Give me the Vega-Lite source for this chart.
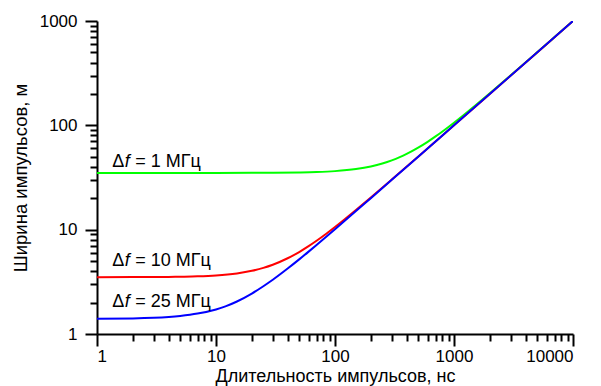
{
  "$schema": "https://vega.github.io/schema/vega-lite/v6.json",
  "autosize": "none",
  "width": 476,
  "height": 313,
  "padding": {"left": 97, "top": 21, "right": 28, "bottom": 52},
  "background": "white",
  "config": {
    "view": {"stroke": null},
    "font": "Liberation Sans",
    "axis": {"grid": false, "domainColor": "black", "tickColor": "black", "domainWidth": 2, "tickWidth": 2, "labelColor": "black", "titleColor": "black", "labelFont": "Liberation Sans", "titleFont": "Liberation Sans", "labelFontSize": 17, "titleFontSize": 18.5, "titleFontWeight": "normal"}
  },
  "datasets": {
    "curves": [
      {"x": 1, "y": 35.0, "s": "1 МГц"}, {"x": 10, "y": 35.0, "s": "1 МГц"}, {"x": 20, "y": 35.06, "s": "1 МГц"}, {"x": 30, "y": 35.13, "s": "1 МГц"}, {"x": 50, "y": 35.36, "s": "1 МГц"}, {"x": 70, "y": 35.69, "s": "1 МГц"}, {"x": 100, "y": 36.4, "s": "1 МГц"}, {"x": 150, "y": 38.08, "s": "1 МГц"}, {"x": 200, "y": 40.31, "s": "1 МГц"}, {"x": 250, "y": 43.01, "s": "1 МГц"}, {"x": 300, "y": 46.1, "s": "1 МГц"}, {"x": 350, "y": 49.5, "s": "1 МГц"}, {"x": 400, "y": 53.15, "s": "1 МГц"}, {"x": 500, "y": 61.03, "s": "1 МГц"}, {"x": 600, "y": 69.46, "s": "1 МГц"}, {"x": 700, "y": 78.26, "s": "1 МГц"}, {"x": 800, "y": 87.32, "s": "1 МГц"}, {"x": 1000, "y": 105.9, "s": "1 МГц"}, {"x": 1200, "y": 125.0, "s": "1 МГц"}, {"x": 1500, "y": 154.0, "s": "1 МГц"}, {"x": 2000, "y": 203.0, "s": "1 МГц"}, {"x": 3000, "y": 302.0, "s": "1 МГц"}, {"x": 5000, "y": 501.2, "s": "1 МГц"}, {"x": 7000, "y": 700.9, "s": "1 МГц"}, {"x": 10000, "y": 1000.6, "s": "1 МГц"},
      {"x": 1, "y": 3.5, "s": "10 МГц"}, {"x": 2, "y": 3.51, "s": "10 МГц"}, {"x": 3, "y": 3.51, "s": "10 МГц"}, {"x": 5, "y": 3.54, "s": "10 МГц"}, {"x": 7, "y": 3.57, "s": "10 МГц"}, {"x": 10, "y": 3.64, "s": "10 МГц"}, {"x": 15, "y": 3.81, "s": "10 МГц"}, {"x": 20, "y": 4.03, "s": "10 МГц"}, {"x": 25, "y": 4.3, "s": "10 МГц"}, {"x": 30, "y": 4.61, "s": "10 МГц"}, {"x": 40, "y": 5.32, "s": "10 МГц"}, {"x": 50, "y": 6.1, "s": "10 МГц"}, {"x": 60, "y": 6.95, "s": "10 МГц"}, {"x": 70, "y": 7.83, "s": "10 МГц"}, {"x": 85, "y": 9.19, "s": "10 МГц"}, {"x": 100, "y": 10.59, "s": "10 МГц"}, {"x": 120, "y": 12.5, "s": "10 МГц"}, {"x": 150, "y": 15.4, "s": "10 МГц"}, {"x": 200, "y": 20.3, "s": "10 МГц"}, {"x": 300, "y": 30.2, "s": "10 МГц"}, {"x": 500, "y": 50.12, "s": "10 МГц"}, {"x": 700, "y": 70.09, "s": "10 МГц"}, {"x": 1000, "y": 100.06, "s": "10 МГц"}, {"x": 2000, "y": 200.03, "s": "10 МГц"}, {"x": 5000, "y": 500.0, "s": "10 МГц"}, {"x": 10000, "y": 1000.0, "s": "10 МГц"},
      {"x": 1, "y": 1.4, "s": "25 МГц"}, {"x": 2, "y": 1.41, "s": "25 МГц"}, {"x": 3, "y": 1.43, "s": "25 МГц"}, {"x": 5, "y": 1.49, "s": "25 МГц"}, {"x": 7, "y": 1.57, "s": "25 МГц"}, {"x": 10, "y": 1.72, "s": "25 МГц"}, {"x": 12, "y": 1.84, "s": "25 МГц"}, {"x": 15, "y": 2.05, "s": "25 МГц"}, {"x": 20, "y": 2.44, "s": "25 МГц"}, {"x": 25, "y": 2.87, "s": "25 МГц"}, {"x": 30, "y": 3.31, "s": "25 МГц"}, {"x": 40, "y": 4.24, "s": "25 МГц"}, {"x": 50, "y": 5.19, "s": "25 МГц"}, {"x": 60, "y": 6.16, "s": "25 МГц"}, {"x": 70, "y": 7.14, "s": "25 МГц"}, {"x": 100, "y": 10.1, "s": "25 МГц"}, {"x": 150, "y": 15.06, "s": "25 МГц"}, {"x": 200, "y": 20.05, "s": "25 МГц"}, {"x": 300, "y": 30.03, "s": "25 МГц"}, {"x": 500, "y": 50.02, "s": "25 МГц"}, {"x": 1000, "y": 100.01, "s": "25 МГц"}, {"x": 10000, "y": 1000.0, "s": "25 МГц"}
    ],
    "labels": [
      {"lx": 1.34, "ly": 40, "d": "Δ", "f": "f", "rest": "= 1 МГц"},
      {"lx": 1.34, "ly": 4.44, "d": "Δ", "f": "f", "rest": "= 10 МГц"},
      {"lx": 1.34, "ly": 1.8, "d": "Δ", "f": "f", "rest": "= 25 МГц"}
    ]
  },
  "resolve": {"axis": {"x": "independent", "y": "independent"}},
  "layer": [
    {
      "data": {"name": "curves"},
      "mark": {"type": "line", "strokeWidth": 2, "clip": true, "interpolate": "monotone"},
      "encoding": {
        "x": {"field": "x", "type": "quantitative", "scale": {"type": "log", "domain": [1, 10000], "nice": false},
          "axis": {"orient": "bottom", "values": [1, 10, 100, 1000, 10000], "format": "d", "tickSize": 12, "labelPadding": 2, "title": "Длительность импульсов, нс", "titlePadding": 3, "titleFontSize": 18}},
        "y": {"field": "y", "type": "quantitative", "scale": {"type": "log", "domain": [1, 1000], "nice": false},
          "axis": {"orient": "left", "values": [1, 10, 100, 1000], "format": "d", "tickSize": 12, "labelPadding": 8, "title": "Ширина импульсов, м", "titlePadding": 9}},
        "color": {"field": "s", "type": "nominal", "scale": {"domain": ["1 МГц", "10 МГц", "25 МГц"], "range": ["#00ff00", "#ff0000", "#0000ff"]}, "legend": null},
        "detail": {"field": "s"}
      }
    },
    {
      "data": {"name": "curves"},
      "mark": {"type": "point", "opacity": 0},
      "encoding": {
        "x": {"field": "x", "type": "quantitative", "scale": {"type": "log", "domain": [1, 10000], "nice": false},
          "axis": {"orient": "bottom", "values": [2, 3, 4, 5, 6, 7, 8, 9, 20, 30, 40, 50, 60, 70, 80, 90, 200, 300, 400, 500, 600, 700, 800, 900, 2000, 3000, 4000, 5000, 6000, 7000, 8000, 9000], "labels": false, "domain": false, "tickSize": 7, "title": null}},
        "y": {"field": "y", "type": "quantitative", "scale": {"type": "log", "domain": [1, 1000], "nice": false},
          "axis": {"orient": "left", "values": [2, 3, 4, 5, 6, 7, 8, 9, 20, 30, 40, 50, 60, 70, 80, 90, 200, 300, 400, 500, 600, 700, 800, 900], "labels": false, "domain": false, "tickSize": 7, "title": null}}
      }
    },
    {
      "data": {"name": "labels"},
      "mark": {"type": "text", "align": "left", "baseline": "alphabetic", "fontSize": 18, "font": "Liberation Sans", "color": "black"},
      "encoding": {
        "x": {"field": "lx", "type": "quantitative", "scale": {"type": "log", "domain": [1, 10000], "nice": false}, "axis": null},
        "y": {"field": "ly", "type": "quantitative", "scale": {"type": "log", "domain": [1, 1000], "nice": false}, "axis": null},
        "text": {"field": "d"}
      }
    },
    {
      "data": {"name": "labels"},
      "mark": {"type": "text", "align": "left", "baseline": "alphabetic", "fontSize": 18, "font": "Liberation Sans", "fontStyle": "italic", "color": "black", "dx": 12.5},
      "encoding": {
        "x": {"field": "lx", "type": "quantitative", "scale": {"type": "log", "domain": [1, 10000], "nice": false}, "axis": null},
        "y": {"field": "ly", "type": "quantitative", "scale": {"type": "log", "domain": [1, 1000], "nice": false}, "axis": null},
        "text": {"field": "f"}
      }
    },
    {
      "data": {"name": "labels"},
      "mark": {"type": "text", "align": "left", "baseline": "alphabetic", "fontSize": 18, "font": "Liberation Sans", "color": "black", "dx": 23},
      "encoding": {
        "x": {"field": "lx", "type": "quantitative", "scale": {"type": "log", "domain": [1, 10000], "nice": false}, "axis": null},
        "y": {"field": "ly", "type": "quantitative", "scale": {"type": "log", "domain": [1, 1000], "nice": false}, "axis": null},
        "text": {"field": "rest"}
      }
    }
  ]
}
